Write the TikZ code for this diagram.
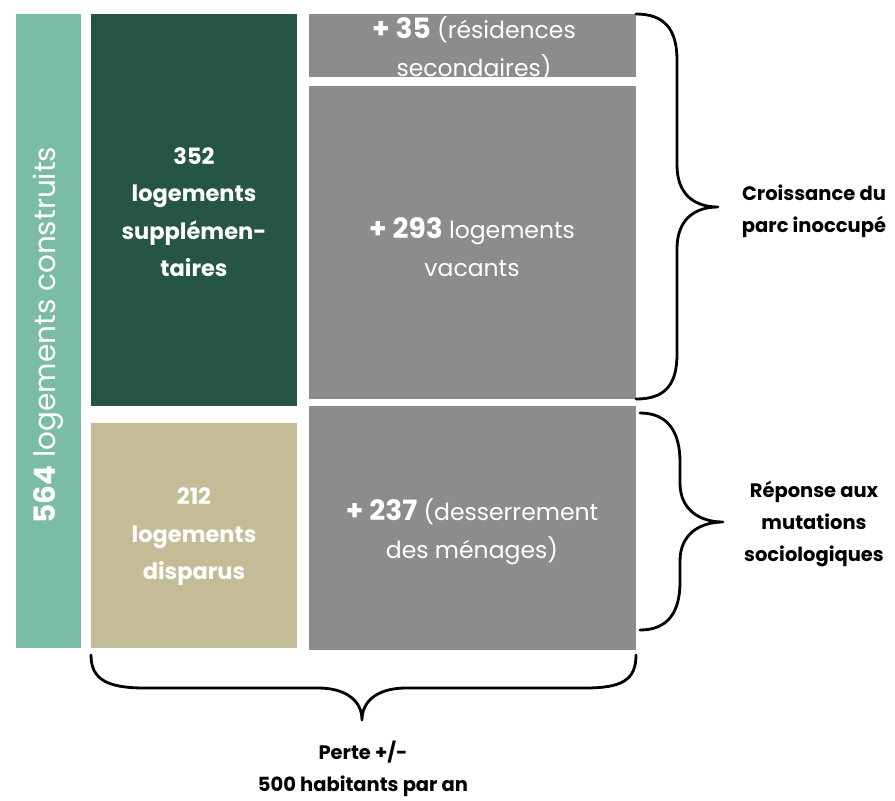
\documentclass[tikz,border=0pt]{standalone}
\usepackage{fontspec}
\setmainfont{Poppins}
\definecolor{teal}{HTML}{7BBDA4}
\definecolor{dkgreen}{HTML}{275544}
\definecolor{tan}{HTML}{C4BC96}
\definecolor{gry}{HTML}{8C8C8E}
\begin{document}
\begin{tikzpicture}[x=1pt,y=-1pt,
  blk/.style={anchor=north west,inner sep=0pt,outer sep=0pt,draw=none},
  wtxt/.style={text=white,align=center,inner sep=0pt},
  btxt/.style={text=black,align=center,inner sep=0pt,font=\fontsize{19.5}{32}\selectfont\bfseries},
  brace/.style={draw=black,line width=2.8pt,line cap=round,line join=round}]
\useasboundingbox (0,0) rectangle (895,801);
% blocks
\node[blk,fill=teal,minimum width=65pt,minimum height=634pt] (bar) at (16,14) {};
\node[blk,fill=dkgreen,minimum width=206pt,minimum height=392pt] (sup) at (91,14) {};
\node[blk,fill=tan,minimum width=206pt,minimum height=225pt] (dis) at (91,423) {};
\node[blk,fill=gry,minimum width=327pt,minimum height=63pt] (sec) at (309,14) {};
\node[blk,fill=gry,minimum width=327pt,minimum height=313pt] (vac) at (309,86) {};
\node[blk,fill=gry,minimum width=327pt,minimum height=244pt] (des) at (309,406) {};
% texts
\node[wtxt,rotate=90] (t564) at (48,335) {\fontsize{29.5}{30}\selectfont\textbf{564} logements construits};
\node[wtxt,font=\fontsize{22.5}{37.5}\selectfont\bfseries] (t352) at (194,212) {352\\logements\\supplémen-\\taires};
\node[wtxt,font=\fontsize{22.5}{37.5}\selectfont\bfseries] (t212) at (194,537) {212\\logements\\disparus};
\node[wtxt,font=\fontsize{23.5}{38}\selectfont] (t35) at (474,49) {{\fontsize{28}{38}\selectfont\bfseries + 35} (résidences\\secondaires)};
\node[wtxt,font=\fontsize{23.5}{38}\selectfont] (t293) at (472,247) {{\fontsize{28}{38}\selectfont\bfseries + 293} logements\\vacants};
\node[wtxt,font=\fontsize{23.5}{38}\selectfont] (t237) at (472,532) {{\fontsize{28}{38}\selectfont\bfseries + 237} (desserrement\\des ménages)};
% braces
\coordinate (b1t) at (636,14);
\coordinate (b1b) at (636,399);
\draw[brace] (b1t) .. controls (665,14) and (677,30) .. (677,60) -- (677,165)
  .. controls (677,195) and (695,207) .. (718,207)
  .. controls (695,207) and (677,219) .. (677,249) -- (677,354)
  .. controls (677,385) and (665,399) .. (b1b);
\coordinate (b2t) at (640,413);
\coordinate (b2b) at (640,630);
\draw[brace] (b2t) .. controls (668,413) and (680,432) .. (680,462) -- (680,483)
  .. controls (680,510) and (700,522) .. (723,522)
  .. controls (700,522) and (680,534) .. (680,561) -- (680,582)
  .. controls (680,612) and (668,630) .. (b2b);
\coordinate (b3l) at (91,655);
\coordinate (b3r) at (636,655);
\draw[brace] (b3l) .. controls (91,680) and (108,688) .. (145,688) -- (318,688)
  .. controls (345,688) and (362,700) .. (362,720)
  .. controls (362,700) and (379,688) .. (406,688) -- (585,688)
  .. controls (622,688) and (636,680) .. (b3r);
\node[btxt] (lab1) at (814,211) {Croissance du\\parc inoccupé};
\node[btxt] (lab2) at (814,524) {Réponse aux\\mutations\\sociologiques};
\node[btxt] (lab3) at (363,769) {Perte +/-\\500 habitants par an};
\end{tikzpicture}
\end{document}
